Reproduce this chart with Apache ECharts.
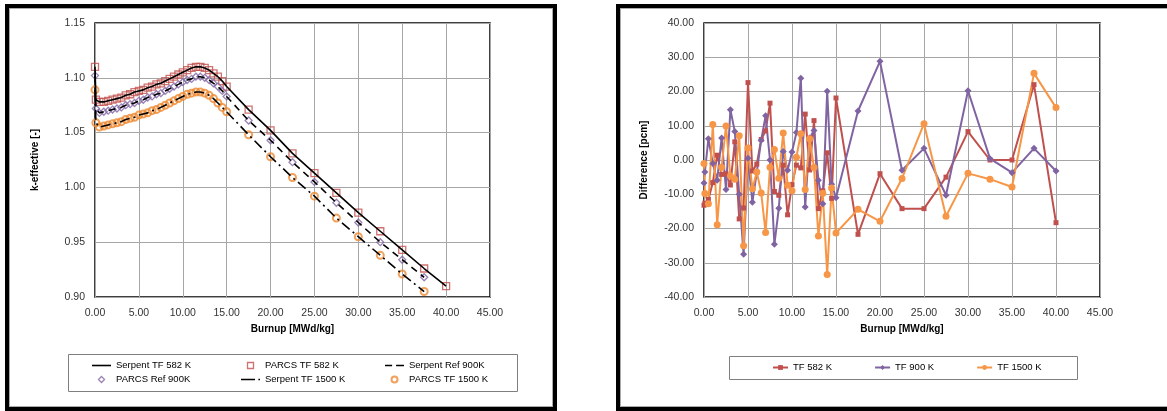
<!DOCTYPE html>
<html>
<head>
<meta charset="utf-8">
<script src="https://cdn.jsdelivr.net/npm/echarts@6/dist/echarts.min.js"></script>
<style>
  html, body { margin: 0; padding: 0; background: #fff; }
  .page { position: relative; width: 1167px; height: 411px; overflow: hidden; }
  .panel { position: absolute; box-sizing: border-box; border: 4px solid #000; box-shadow: inset 0 0 0 1px #aaa; }
  .panel-left { left: 5px; top: 4px; width: 552px; height: 407px; }
  .panel-right { left: 616px; top: 4px; width: 560px; height: 407px; }
  #chart { position: absolute; left: 0; top: 0; width: 1167px; height: 411px; }
</style>
</head>
<body>
<div class="page">
  <div class="panel panel-left"></div>
  <div class="panel panel-right"></div>
  <div id="chart"></div>
</div>
<script>
// burnup steps [MWd/kg]
const burnup = [0, 0.1, 0.5, 1.0, 1.5, 2.0, 2.5, 3.0, 3.5, 4.0, 4.5, 5.0, 5.5, 6.0, 6.5, 7.0, 7.5, 8.0, 8.5, 9.0, 9.5,
  10.0, 10.5, 11.0, 11.5, 12.0, 12.5, 13.0, 13.5, 14.0, 14.5, 15.0, 17.5, 20.0, 22.5, 25.0, 27.5, 30.0, 32.5, 35.0, 37.5, 40.0]

// k-effective (left chart)
const kTF582 = [1.110, 1.080, 1.078, 1.078, 1.079, 1.080, 1.081, 1.082, 1.084, 1.085, 1.087, 1.088, 1.089, 1.091, 1.092, 1.094,
  1.095, 1.097, 1.099, 1.101, 1.103, 1.105, 1.107, 1.109, 1.110, 1.110, 1.109, 1.107, 1.104, 1.101, 1.097, 1.092,
  1.071, 1.052, 1.031, 1.013, 0.995, 0.977, 0.960, 0.943, 0.926, 0.910]
const kRef900 = [1.102, 1.072, 1.068, 1.069, 1.070, 1.071, 1.072, 1.073, 1.075, 1.076, 1.077, 1.079, 1.080, 1.082, 1.083, 1.085,
  1.086, 1.088, 1.090, 1.092, 1.094, 1.096, 1.098, 1.099, 1.101, 1.101, 1.100, 1.098, 1.095, 1.092, 1.088, 1.083,
  1.061, 1.043, 1.023, 1.005, 0.986, 0.968, 0.950, 0.934, 0.918]
const kTF1500 = [1.089, 1.059, 1.055, 1.056, 1.057, 1.058, 1.059, 1.060, 1.062, 1.063, 1.064, 1.066, 1.067, 1.068, 1.070, 1.071,
  1.073, 1.075, 1.077, 1.079, 1.081, 1.083, 1.085, 1.086, 1.087, 1.087, 1.086, 1.084, 1.081, 1.077, 1.073, 1.069,
  1.048, 1.028, 1.009, 0.992, 0.972, 0.955, 0.938, 0.921, 0.905]

// differences PARCS - Serpent [pcm] (right chart)
const diff582 = [-13.2, -12.6, -11.5, -6.6, 1.4, -4.2, -4.0, -7.3, 5.3, -17.2, -14.0, 22.6, -3.2, -1.2, 6.0, 8.5,
  16.6, -9.2, -10.3, -1.5, -16.0, -7.2, -1.5, -2.3, 13.4, -2.9, 11.5, -14.2, -9.0, 2.1, -11.2, 18.1,
  -21.7, -4.0, -14.2, -14.2, -5.0, 8.3, 0.0, 0.0, 22.0, -18.3]
const diff900 = [-6.7, -3.5, 6.2, -1.0, -5.9, 6.4, -8.6, 14.7, 8.3, -10.0, -27.5, 0.5, -12.3, -3.5, 5.8, 12.9,
  0.0, -24.6, -14.1, 2.5, -3.0, 2.3, 8.0, 23.9, -13.7, 6.4, 8.6, -5.9, -12.8, 20.1, -7.1, -11.0,
  14.3, 28.8, -3.0, 3.4, -10.3, 20.2, 0.4, -3.7, 3.4, -3.2]
const diff1500 = [-1.0, -9.8, -12.8, 10.4, -18.9, -2.1, 9.9, -4.7, -5.6, 7.1, -25.0, 3.5, -8.4, -3.5, -9.6, -21.2,
  -2.1, 3.1, -5.3, 7.9, -7.4, -9.0, 0.8, 7.7, -8.6, 6.2, -2.2, -22.2, -9.7, -33.4, -8.2, -21.3,
  -14.4, -17.9, -5.4, 10.6, -16.4, -3.9, -5.6, -7.9, 25.3, 15.3]

const font = 'Liberation Sans, Arial, sans-serif'
const red = '#C0504D'
const purple = '#8064A2'
const orange = '#F79646'
const orangeDark = '#EE8A32'

function pairs (ys) {
  return ys.map((y, i) => [burnup[i], y])
}

function xAxis (gridIndex) {
  return {
    gridIndex: gridIndex,
    type: 'value',
    min: 0,
    max: 45,
    interval: 5,
    name: 'Burnup [MWd/kg]',
    nameLocation: 'middle',
    nameGap: 26,
    nameTextStyle: { fontFamily: font, fontSize: 10, fontWeight: 'bold', color: '#000' },
    axisLine: { show: false },
    axisTick: { show: false },
    axisLabel: { margin: 11, fontFamily: font, fontSize: 10.5, color: '#333', formatter: v => v.toFixed(2) },
    splitLine: { show: true, lineStyle: { color: '#a6a6a6', width: 1 } }
  }
}

function yAxis (gridIndex, name, min, max, interval) {
  return {
    gridIndex: gridIndex,
    type: 'value',
    min: min,
    max: max,
    interval: interval,
    name: name,
    nameLocation: 'middle',
    nameRotate: 90,
    nameGap: 55,
    nameTextStyle: { fontFamily: font, fontSize: 10, fontWeight: 'bold', color: '#000' },
    axisLine: { show: false },
    axisTick: { show: false },
    axisLabel: { margin: 10, fontFamily: font, fontSize: 10.5, color: '#333', formatter: v => v.toFixed(2) },
    splitLine: { show: true, lineStyle: { color: '#a6a6a6', width: 1 } }
  }
}

const legendText = { fontFamily: font, fontSize: 9.5, color: '#000' }
// legend icons drawn as small paths so the line patterns show
const iconSolid = 'path://M0,0H24V2H0Z'
const iconDash = 'path://M0,0H9V2H0Z M14,0H24V2H14Z'
const iconDashDot = 'path://M0,0H17V2H0Z M21,0H23V2H21Z'
const iconSquare = 'path://M0,0H10V10H0Z'
const iconDiamond = 'path://M5,0L10,5L5,10L0,5Z'

function leftLegend (left, items) {
  return {
    orient: 'vertical',
    left: left,
    top: 360.5,
    padding: 0,
    itemWidth: 19,
    itemHeight: 6,
    itemGap: 4,
    selectedMode: false,
    textStyle: legendText,
    data: items
  }
}

const chart = echarts.init(document.getElementById('chart'))
chart.setOption({
  animation: false,
  backgroundColor: 'transparent',
  grid: [
    { left: 95, top: 23, width: 395, height: 274, show: true, borderColor: '#000', borderWidth: 1.5 },
    { left: 704, top: 23, width: 396, height: 274, show: true, borderColor: '#000', borderWidth: 1.5 }
  ],
  xAxis: [xAxis(0), xAxis(1)],
  yAxis: [
    yAxis(0, 'k-effective [-]', 0.9, 1.15, 0.05),
    yAxis(1, 'Difference [pcm]', -40, 40, 10)
  ],
  legend: [
    leftLegend(92, [
      { name: 'Serpent TF 582 K', icon: iconSolid, itemStyle: { color: '#000', borderWidth: 0 } },
      { name: 'PARCS Ref 900K', icon: iconDiamond, itemStyle: { color: 'rgba(0,0,0,0)', borderColor: purple, borderWidth: 1.3 } }
    ]),
    leftLegend(241, [
      { name: 'PARCS TF 582 K', icon: iconSquare, itemStyle: { color: 'rgba(0,0,0,0)', borderColor: red, borderWidth: 1.3 } },
      { name: 'Serpent TF 1500 K', icon: iconDashDot, itemStyle: { color: '#000', borderWidth: 0 } }
    ]),
    leftLegend(385, [
      { name: 'Serpent Ref 900K', icon: iconDash, itemStyle: { color: '#000', borderWidth: 0 } },
      { name: 'PARCS TF 1500 K', icon: 'circle', itemStyle: { color: 'rgba(0,0,0,0)', borderColor: orangeDark, borderWidth: 2 } }
    ]),
    {
      left: 772,
      top: 362.5,
      padding: 0,
      itemWidth: 15,
      itemHeight: 6,
      itemGap: 42,
      selectedMode: false,
      textStyle: legendText,
      data: ['TF 582 K', 'TF 900 K', 'TF 1500 K']
    }
  ],
  graphic: [
    { type: 'rect', shape: { x: 68.5, y: 354.5, width: 449, height: 37 }, style: { fill: 'none', stroke: '#7f7f7f', lineWidth: 1 } },
    { type: 'rect', shape: { x: 729.5, y: 356.5, width: 348, height: 23 }, style: { fill: 'none', stroke: '#7f7f7f', lineWidth: 1 } }
  ],
  series: [
    // left chart: PARCS markers under the Serpent lines
    {
      name: 'PARCS TF 582 K', type: 'scatter', xAxisIndex: 0, yAxisIndex: 0, z: 2,
      symbol: 'rect', symbolSize: 7,
      itemStyle: { color: 'rgba(0,0,0,0)', borderColor: red, borderWidth: 1.3 },
      data: pairs(kTF582)
    },
    {
      name: 'PARCS Ref 900K', type: 'scatter', xAxisIndex: 0, yAxisIndex: 0, z: 2,
      symbol: 'diamond', symbolSize: 7,
      itemStyle: { color: 'rgba(0,0,0,0)', borderColor: purple, borderWidth: 1.3 },
      data: pairs(kRef900)
    },
    {
      name: 'PARCS TF 1500 K', type: 'scatter', xAxisIndex: 0, yAxisIndex: 0, z: 2,
      symbol: 'circle', symbolSize: 7,
      itemStyle: { color: 'rgba(0,0,0,0)', borderColor: orangeDark, borderWidth: 2 },
      data: pairs(kTF1500)
    },
    {
      name: 'Serpent TF 582 K', type: 'line', xAxisIndex: 0, yAxisIndex: 0, z: 3,
      symbol: 'none', itemStyle: { color: '#000' },
      lineStyle: { color: '#000', width: 1.6 },
      data: pairs(kTF582)
    },
    {
      name: 'Serpent Ref 900K', type: 'line', xAxisIndex: 0, yAxisIndex: 0, z: 3,
      symbol: 'none', itemStyle: { color: '#000' },
      lineStyle: { color: '#000', width: 1.6, type: [7, 5] },
      data: pairs(kRef900)
    },
    {
      name: 'Serpent TF 1500 K', type: 'line', xAxisIndex: 0, yAxisIndex: 0, z: 3,
      symbol: 'none', itemStyle: { color: '#000' },
      lineStyle: { color: '#000', width: 1.6, type: [10, 4, 2, 4] },
      data: pairs(kTF1500)
    },
    // right chart
    {
      name: 'TF 582 K', type: 'line', xAxisIndex: 1, yAxisIndex: 1,
      symbol: 'rect', symbolSize: 5, showAllSymbol: true,
      itemStyle: { color: red }, lineStyle: { color: red, width: 2 },
      data: pairs(diff582)
    },
    {
      name: 'TF 900 K', type: 'line', xAxisIndex: 1, yAxisIndex: 1,
      symbol: 'diamond', symbolSize: 7, showAllSymbol: true,
      itemStyle: { color: purple }, lineStyle: { color: purple, width: 2 },
      data: pairs(diff900)
    },
    {
      name: 'TF 1500 K', type: 'line', xAxisIndex: 1, yAxisIndex: 1,
      symbol: 'circle', symbolSize: 7, showAllSymbol: true,
      itemStyle: { color: orange }, lineStyle: { color: orange, width: 2 },
      data: pairs(diff1500)
    }
  ]
})
</script>
</body>
</html>
